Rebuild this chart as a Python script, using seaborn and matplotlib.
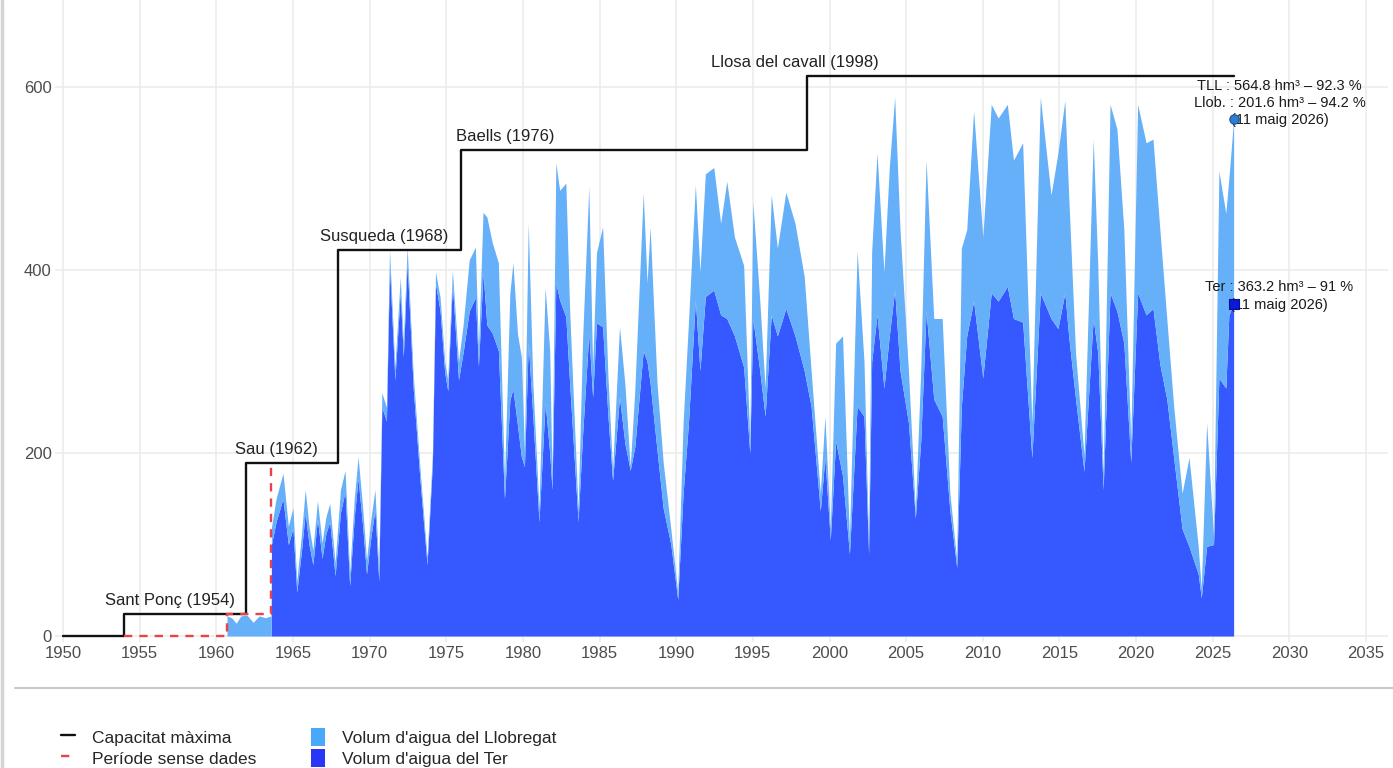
import matplotlib
matplotlib.use("Agg")
import pandas as pd
import matplotlib.pyplot as plt
import seaborn as sns
from matplotlib.lines import Line2D
from matplotlib.patches import Patch

#%%
# Dades llegides del gràfic (hm3). Abans de 1963.6 només hi ha Llobregat (Sant Ponç)

anys = [1960.70, 1961.00, 1961.30, 1961.60, 1962.00, 1962.40, 1962.80, 1963.20, 1963.58,
        1963.60, 1963.90, 1964.35, 1964.70, 1965.00, 1965.25, 1965.55, 1965.80, 1966.05, 1966.30,
        1966.60, 1966.90, 1967.15, 1967.40, 1967.75, 1968.10, 1968.40, 1968.70, 1969.00, 1969.25,
        1969.55, 1969.80, 1970.10, 1970.35, 1970.60, 1970.80, 1971.10, 1971.30, 1971.65, 1972.00,
        1972.20, 1972.45, 1972.85, 1973.30, 1973.75, 1974.10, 1974.30, 1974.60, 1974.90, 1975.10,
        1975.40, 1975.80, 1976.10, 1976.50, 1976.90, 1977.10, 1977.40, 1977.65, 1978.00, 1978.40,
        1978.80, 1979.15, 1979.35, 1979.65, 1979.90, 1980.10, 1980.35, 1980.65, 1981.05, 1981.45,
        1981.75, 1981.90, 1982.15, 1982.40, 1982.80, 1983.05, 1983.60, 1983.90, 1984.30, 1984.55,
        1984.80, 1985.20, 1985.55, 1985.85, 1986.30, 1986.65, 1987.00, 1987.30, 1987.85, 1988.10,
        1988.30, 1988.75, 1989.15, 1989.65, 1990.10, 1990.45, 1990.80, 1991.25, 1991.55, 1991.90,
        1992.45, 1992.90, 1993.30, 1993.80, 1994.40, 1994.80, 1995.00, 1995.45, 1995.80, 1996.20,
        1996.60, 1997.15, 1997.75, 1998.35, 1998.80, 1999.40, 1999.70, 2000.05, 2000.40, 2000.85,
        2001.30, 2001.80, 2002.25, 2002.55, 2002.75, 2003.10, 2003.55, 2003.90, 2004.25, 2004.60,
        2005.15, 2005.60, 2005.95, 2006.30, 2006.80, 2007.35, 2007.85, 2008.30, 2008.60, 2008.95,
        2009.40, 2010.00, 2010.55, 2011.00, 2011.60, 2012.00, 2012.60, 2013.20, 2013.75, 2014.45,
        2014.90, 2015.35, 2015.60, 2016.05, 2016.60, 2017.20, 2017.50, 2017.85, 2018.30, 2018.75,
        2019.20, 2019.65, 2020.10, 2020.65, 2021.10, 2021.55, 2022.00, 2022.45, 2023.00, 2023.45,
        2024.05, 2024.25, 2024.60, 2025.05, 2025.40, 2025.85, 2026.05, 2026.36]

total = [22, 20, 14, 22, 23, 15, 22, 20, 22,
         119, 150, 178, 120, 140, 60, 110, 160, 120, 94,
         148, 102, 130, 145, 80, 160, 181, 69, 150, 196,
         140, 83, 130, 160, 72, 266, 250, 422, 294, 392,
         320, 425, 285, 180, 86, 200, 398, 370, 300, 280,
         400, 300, 340, 411, 425, 312, 463, 458, 430, 408,
         170, 375, 408, 330, 305, 203, 451, 276, 140, 381,
         312, 174, 517, 487, 495, 356, 138, 327, 491, 294,
         419, 447, 283, 181, 338, 276, 185, 269, 484, 386,
         447, 276, 190, 117, 48, 233, 343, 493, 398, 505,
         512, 451, 497, 436, 405, 213, 474, 367, 271, 482,
         424, 485, 451, 393, 290, 156, 240, 117, 320, 328,
         106, 421, 300, 100, 420, 528, 398, 512, 589, 444,
         290, 137, 290, 520, 347, 347, 156, 83, 424, 444,
         574, 436, 581, 566, 581, 520, 539, 233, 589, 482,
         528, 585, 482, 309, 198, 543, 405, 175, 581, 554,
         444, 213, 581, 539, 543, 444, 347, 251, 156, 195,
         98, 52, 233, 109, 508, 462, 500, 564.8]

ter = [0, 0, 0, 0, 0, 0, 0, 0, 0,
       100, 125, 150, 100, 118, 48, 92, 135, 100, 78,
       128, 85, 112, 125, 66, 135, 158, 55, 130, 172,
       120, 68, 110, 138, 60, 250, 235, 405, 280, 375,
       305, 408, 270, 168, 78, 190, 385, 355, 288, 268,
       385, 280, 310, 355, 370, 295, 397, 340, 331, 312,
       150, 258, 270, 230, 196, 185, 320, 240, 125, 255,
       200, 160, 386, 367, 349, 276, 125, 222, 331, 261,
       342, 338, 240, 170, 261, 211, 181, 207, 312, 300,
       276, 203, 140, 100, 40, 156, 233, 367, 290, 371,
       378, 351, 347, 328, 294, 200, 347, 290, 240, 351,
       328, 358, 328, 290, 251, 137, 195, 105, 213, 175,
       90, 251, 240, 90, 300, 351, 271, 328, 378, 290,
       233, 129, 213, 355, 259, 240, 137, 75, 251, 328,
       366, 282, 375, 366, 382, 347, 343, 195, 375, 347,
       336, 375, 328, 259, 180, 347, 309, 160, 375, 355,
       320, 190, 375, 351, 358, 297, 259, 195, 117, 98,
       68, 42, 98, 100, 282, 271, 351, 363.2]

# Capacitat màxima acumulada
cap_anys = [1950, 1954.0, 1961.95, 1967.95, 1975.95, 1998.5, 2026.36]
cap_vol = [0, 24, 189, 422, 531, 612, 612]

# Període sense dades
sd_anys = [1954.0, 1960.7, 1963.6]
sd_vol = [0, 24, 189]

embassaments = ["Sant Ponç (1954)", "Sau (1962)", "Susqueda (1968)",
                "Baells (1976)", "Llosa del cavall (1998)"]
emb_cap = [24, 189, 422, 531, 612]
emb_text_x = [1957.0, 1963.9, 1970.95, 1978.85, 1997.75]

ultima_data = "11 maig 2026"
tll_vol, tll_pct = 564.8, 92.3
llob_vol, llob_pct = 201.6, 94.2
ter_vol, ter_pct = 363.2, 91

df = pd.DataFrame({"any": anys, "total": total, "ter": ter})
df["llob"] = df["total"] - df["ter"]

#%%
# Estil

sns.set_theme(style="whitegrid")
plt.rcParams["font.family"] = ["Liberation Sans", "DejaVu Sans"]

c_ter = "#3659ff"
c_llob = "#65b0f8"
c_grid = "#ebebeb"

W, H = 1393, 768
fig = plt.figure(figsize=(W / 100, H / 100), dpi=100)
ax = fig.add_axes([55 / W, 1 - 642 / H, (1388 - 55) / W, 642 / H])

#%%
# Àrees apilades

ax.fill_between(df["any"], 0, df["ter"], color=c_ter, lw=0)
ax.fill_between(df["any"], df["ter"], df["total"], color=c_llob, lw=0)

# Línies de capacitat
sns.lineplot(x=cap_anys, y=cap_vol, drawstyle="steps-post", color="#111111",
             lw=1.7, ax=ax)
sns.lineplot(x=sd_anys, y=sd_vol, drawstyle="steps-post", color="#e8424a",
             lw=1.7, linestyle=(0, (3.5, 3)), ax=ax)

for nom, cap, xt in zip(embassaments, emb_cap, emb_text_x):
    ax.annotate(nom, xy=(xt, cap), xytext=(0, 9.5), textcoords="offset points",
                ha="center", va="center", fontsize=12, color="#222222")

# Últim valor
x_fi = df["any"].iloc[-1]
sns.scatterplot(x=[x_fi], y=[tll_vol], marker="o", s=45, color="#2a80d6",
                edgecolor="#1b4f8c", linewidth=0.8, ax=ax, zorder=5)
sns.scatterplot(x=[x_fi], y=[ter_vol], marker="s", s=45, color="#0a1ad6",
                edgecolor="#06108a", linewidth=0.8, ax=ax, zorder=5)

txt_tll = (f"TLL : {tll_vol} hm³ – {tll_pct} %\n"
           f"Llob. : {llob_vol} hm³ – {llob_pct} %\n"
           f"({ultima_data})")
ax.annotate(txt_tll, xy=(x_fi, tll_vol), xytext=(33, 11.5), textcoords="offset points",
            ha="center", va="center", fontsize=10.5, color="#1a1a1a", linespacing=1.28)
txt_ter = f"Ter : {ter_vol} hm³ – {ter_pct} %\n({ultima_data})"
ax.annotate(txt_ter, xy=(x_fi, ter_vol), xytext=(32.5, 5.5), textcoords="offset points",
            ha="center", va="center", fontsize=10.5, color="#1a1a1a", linespacing=1.28)

#%%
# Eixos

ax.set_xlim(1949.48, 2036.43)
ax.set_ylim(-6.5, 695)
ax.set_xticks(range(1950, 2036, 5))
ax.set_yticks([0, 200, 400, 600])
ax.set_xlabel("")
ax.set_ylabel("")
ax.grid(True, color=c_grid, lw=1.1)
ax.set_axisbelow(True)
ax.set_facecolor("white")
ax.tick_params(axis="both", length=0, labelsize=12, labelcolor="#4d4d4d")
ax.tick_params(axis="x", pad=3)
ax.tick_params(axis="y", pad=2.5)
sns.despine(ax=ax, left=True, bottom=True)

#%%
# Llegenda

handles = [
    Line2D([], [], color="#111111", lw=1.7),
    Line2D([], [], color="#e8424a", lw=1.7, linestyle=(0, (3.5, 3))),
    Patch(facecolor="#4aa8f8", edgecolor="none"),
    Patch(facecolor="#2b35f5", edgecolor="none"),
]
labels = ["Capacitat màxima", "Període sense dades",
          "Volum d'aigua del Llobregat", "Volum d'aigua del Ter"]
fig.legend(handles, labels, ncol=2, loc="upper left",
           bbox_to_anchor=(61 / W, 1 - 728 / H), frameon=False, fontsize=12.5,
           handlelength=0.8, handleheight=1.2, handletextpad=0.98,
           columnspacing=3.15, labelspacing=0.18, borderpad=0, borderaxespad=0)

fig.add_artist(Line2D([15 / W, 1], [1 - 688 / H] * 2, color="#c8c8c8", lw=1.5,
                      transform=fig.transFigure))
fig.add_artist(Line2D([2 / W] * 2, [0, 1], color="#d4d4d4", lw=2.5,
                      transform=fig.transFigure))

fig.savefig("out.png", dpi=100, facecolor="white")
